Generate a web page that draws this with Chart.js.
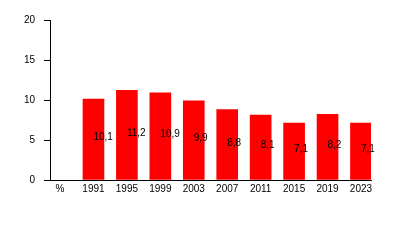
<!DOCTYPE html>
<html>
<head>
<meta charset="utf-8">
<script src="https://cdn.jsdelivr.net/npm/chart.js@4"></script>
<style>
html,body{margin:0;padding:0;background:#fff;}
canvas{display:block;}
</style>
</head>
<body>
<canvas id="c" width="400" height="240"></canvas>
<script>
const tickLabels = ['%', '1991', '1995', '1999', '2003', '2007', '2011', '2015', '2019', '2023'];
const years = ['1991', '1995', '1999', '2003', '2007', '2011', '2015', '2019', '2023'];
const values = [10.1, 11.2, 10.9, 9.9, 8.8, 8.1, 7.1, 8.2, 7.1];
const yTicks = [0, 5, 10, 15, 20];

const FONT = {family: "'Liberation Sans', Arial, sans-serif", size: 10};

const labelPlugin = {
  id: 'barLabels',
  afterDatasetsDraw(chart) {
    const ctx = chart.ctx;
    const meta = chart.getDatasetMeta(0);
    ctx.save();
    ctx.font = FONT.size + 'px ' + FONT.family;
    ctx.fillStyle = '#000';
    ctx.textAlign = 'left';
    ctx.textBaseline = 'alphabetic';
    meta.data.forEach((bar, i) => {
      const txt = String(values[i]).replace('.', ',');
      ctx.fillText(txt, bar.x, (bar.y + bar.base) / 2 + 1);
    });
    ctx.restore();
  }
};

new Chart(document.getElementById('c'), {
  type: 'bar',
  data: {
    datasets: [{
      data: years.map((y, i) => ({x: tickLabels.indexOf(y), y: values[i]})),
      backgroundColor: '#ff0000',
      borderWidth: 0,
      barThickness: 21
    }]
  },
  options: {
    responsive: false,
    animation: false,
    layout: {padding: {left: 0, right: 29, top: 20, bottom: 0}},
    plugins: {legend: {display: false}, tooltip: {enabled: false}},
    scales: {
      x: {
        type: 'linear',
        offset: false,
        min: -0.3,
        max: 9.3,
        grid: {display: false, offset: false, drawTicks: false},
        border: {display: true, color: '#000', width: 1},
        afterBuildTicks(scale) { scale.ticks = tickLabels.map((t, i) => ({value: i})); },
        afterFit(scale) { scale.height = 60; },
        ticks: {
          autoSkip: false,
          maxRotation: 0,
          padding: 3,
          color: '#000',
          font: FONT,
          callback: (v) => tickLabels[v]
        }
      },
      y: {
        min: 0,
        max: 20,
        afterBuildTicks(scale) { scale.ticks = yTicks.map(v => ({value: v})); },
        afterFit(scale) { scale.width = 50; },
        grid: {display: true, drawOnChartArea: false, drawTicks: true, tickLength: 6, color: '#000'},
        border: {display: true, color: '#000', width: 1},
        ticks: {padding: 9, color: '#000', font: FONT}
      }
    }
  },
  plugins: [labelPlugin]
});
</script>
</body>
</html>
